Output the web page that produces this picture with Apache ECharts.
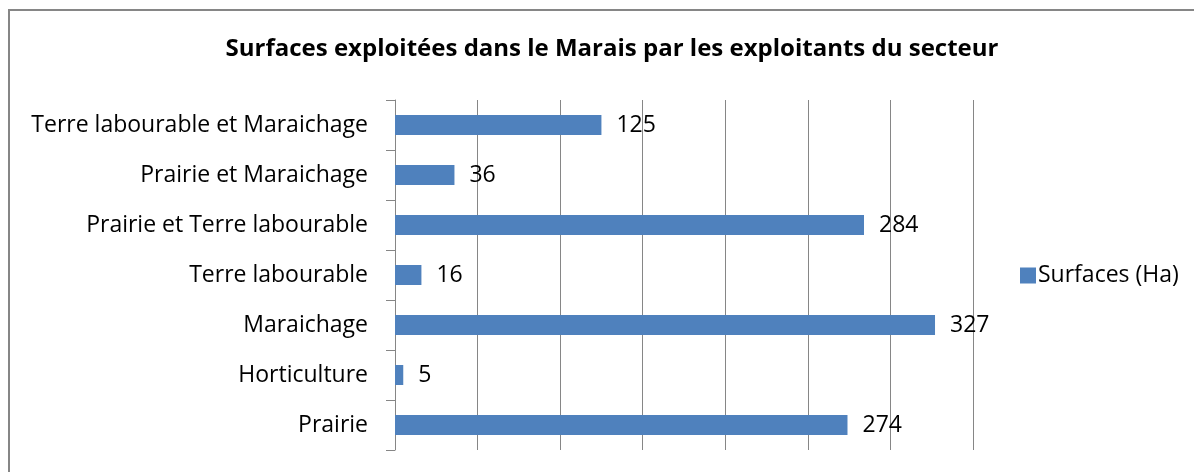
<!DOCTYPE html>
<html>
<head>
<meta charset="utf-8">
<script src="https://cdn.jsdelivr.net/npm/echarts@6/dist/echarts.min.js"></script>
<style>
  html, body { margin: 0; padding: 0; background: #fff; }
  #chart { width: 1194px; height: 472px; }
</style>
</head>
<body>
<div id="chart"></div>
<script>
// Land types, listed from the bottom row to the top row
const categories = [
  'Prairie',
  'Horticulture',
  'Maraichage',
  'Terre labourable',
  'Prairie et Terre labourable',
  'Prairie et Maraichage',
  'Terre labourable et Maraichage'
];
// Surface in hectares for each land type
const surfaces = [274, 5, 327, 16, 284, 36, 125];
const seriesName = 'Surfaces (Ha)';
const titleText = 'Surfaces exploitées dans le Marais par les exploitants du secteur';

const FONT = '"Open Sans", "Liberation Sans", sans-serif';
const GRAY = '#868686';
const TEXT_SIZE = 23;

const chart = echarts.init(document.getElementById('chart'), null, { renderer: 'canvas' });

chart.setOption({
  animation: false,
  textStyle: { fontFamily: FONT },
  title: {
    text: titleText,
    left: 607,
    textAlign: 'center',
    top: 32,
    textStyle: { fontFamily: FONT, fontSize: 24, fontWeight: 'bold', color: '#000' }
  },
  graphic: [
    {
      // outer frame of the chart area
      type: 'rect',
      shape: { x: 9, y: 10, width: 1200, height: 480 },
      style: { fill: 'none', stroke: GRAY, lineWidth: 2 },
      silent: true
    }
  ],
  legend: {
    left: 1015,
    top: 259,
    itemWidth: 16,
    itemHeight: 16,
    itemGap: 5,
    icon: 'rect',
    textStyle: { fontFamily: FONT, fontSize: TEXT_SIZE, color: '#000', padding: [0, 0, 0, -3] },
    data: [seriesName]
  },
  grid: {
    left: 395,
    top: 100,
    width: 578,
    height: 350,
    containLabel: false
  },
  xAxis: {
    type: 'value',
    min: 0,
    max: 350,
    interval: 50,
    axisLine: { show: false },
    axisTick: { show: false },
    axisLabel: { show: false },
    splitLine: { show: true, lineStyle: { color: GRAY, width: 1 } }
  },
  yAxis: {
    type: 'category',
    data: categories,
    axisLine: { show: true, lineStyle: { color: GRAY, width: 1 } },
    axisTick: { show: true, length: 9, lineStyle: { color: GRAY, width: 1 } },
    axisLabel: { margin: 27, fontFamily: FONT, fontSize: TEXT_SIZE, color: '#000' },
    splitLine: { show: false }
  },
  series: [
    {
      name: seriesName,
      type: 'bar',
      data: surfaces,
      barWidth: 20,
      itemStyle: { color: '#4f81bd' },
      label: {
        show: true,
        position: 'right',
        distance: 15,
        fontFamily: FONT,
        fontSize: TEXT_SIZE,
        color: '#000'
      }
    }
  ]
});
</script>
</body>
</html>
